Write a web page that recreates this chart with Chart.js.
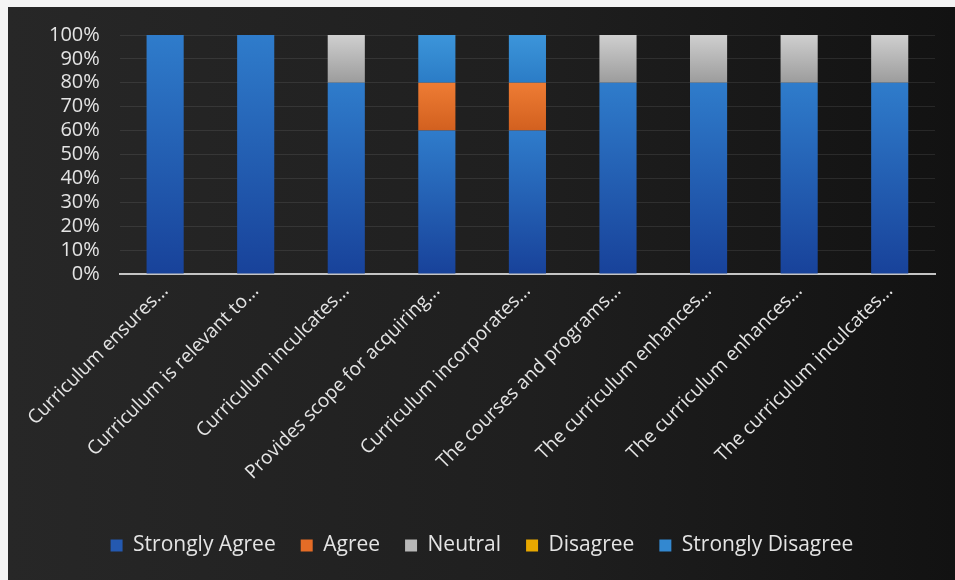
<!DOCTYPE html>
<html lang="en">
<head>
  <meta charset="UTF-8">
  <script src="https://cdn.jsdelivr.net/npm/chart.js"></script>
  <style>
    body, html {
      margin: 0;
      padding: 0;
      background: #f4f4f4;
      width: 955px;
      height: 580px;
      overflow: hidden;
    }
    .panel {
      position: absolute;
      left: 8px;
      top: 7px;
      width: 947px;
      height: 573px;
      overflow: hidden;
      background: linear-gradient(90deg, #272727 0%, #1f1f1f 55%, #121212 100%);
    }
    .chart-box {
      position: absolute;
      left: 0;
      top: -4px;
      width: 947px;
      height: 577px;
    }
  </style>
</head>
<body>
  <div class="panel">
    <div class="chart-box">
      <canvas id="stackedBar"></canvas>
    </div>
  </div>
  <script>
    // Survey statements (x axis)
    const statements = [
      "Curriculum ensures...",
      "Curriculum is relevant to...",
      "Curriculum inculcates...",
      "Provides scope for acquiring...",
      "Curriculum incorporates...",
      "The courses and programs...",
      "The curriculum enhances...",
      "The curriculum enhances...",
      "The curriculum inculcates..."
    ];

    // Share of responses per statement, in percent
    const stronglyAgree    = [100, 100, 80, 60, 60, 80, 80, 80, 80];
    const agree            = [0, 0, 0, 20, 20, 0, 0, 0, 0];
    const neutral          = [0, 0, 20, 0, 0, 20, 20, 20, 20];
    const disagree         = [0, 0, 0, 0, 0, 0, 0, 0, 0];
    const stronglyDisagree = [0, 0, 0, 20, 20, 0, 0, 0, 0];

    const seriesNames = ["Strongly Agree", "Agree", "Neutral", "Disagree", "Strongly Disagree"];
    const seriesData = [stronglyAgree, agree, neutral, disagree, stronglyDisagree];

    // [top, bottom] shades for each series, solid colour for the legend
    const shades = [
      ["#2f7ccb", "#18429a", "#2459b0"],
      ["#ee7c34", "#d2601f", "#e46c26"],
      ["#cfcfcf", "#9c9c9c", "#b8b8b8"],
      ["#f5bc12", "#d99d00", "#e8a800"],
      ["#3c95da", "#2b7cc6", "#3388d0"]
    ];

    const textColor = "#e4e4e4";
    const baseFont = "'Open Sans', sans-serif";

    // vertical gradient over each stacked segment
    function segmentFill(seriesIndex) {
      return function (ctx) {
        const chart = ctx.chart;
        const y = chart.scales && chart.scales.y;
        if (!chart.chartArea || !y || ctx.dataIndex === undefined) return shades[seriesIndex][2];
        let base = 0;
        for (let s = 0; s < seriesIndex; s++) base += seriesData[s][ctx.dataIndex];
        const top = base + seriesData[seriesIndex][ctx.dataIndex];
        const y0 = y.getPixelForValue(top);
        const y1 = y.getPixelForValue(base);
        if (!isFinite(y0) || !isFinite(y1) || y0 === y1) return shades[seriesIndex][2];
        const g = chart.ctx.createLinearGradient(0, y0, 0, y1);
        g.addColorStop(0, shades[seriesIndex][0]);
        g.addColorStop(1, shades[seriesIndex][1]);
        return g;
      };
    }

    const datasets = seriesNames.map((name, i) => ({
      label: name,
      data: seriesData[i],
      backgroundColor: segmentFill(i),
      borderWidth: 0,
      categoryPercentage: 1,
      barPercentage: 0.41
    }));

    const ctx = document.getElementById("stackedBar").getContext("2d");
    new Chart(ctx, {
      type: "bar",
      data: { labels: statements, datasets: datasets },
      options: {
        responsive: true,
        maintainAspectRatio: false,
        animation: false,
        layout: { padding: { left: 21, right: 20, top: 12, bottom: 14 } },
        plugins: {
          tooltip: { enabled: false },
          legend: {
            position: "bottom",
            title: { display: true, text: " ", padding: 4, font: { size: 10 } },
            labels: {
              color: textColor,
              font: { family: baseFont, size: 21 },
              boxWidth: 12,
              boxHeight: 12,
              padding: 25,
              generateLabels: function (chart) {
                return seriesNames.map((name, i) => ({
                  text: name,
                  fillStyle: shades[i][2],
                  strokeStyle: shades[i][2],
                  lineWidth: 0,
                  fontColor: textColor,
                  datasetIndex: i,
                  hidden: false
                }));
              }
            }
          }
        },
        scales: {
          x: {
            stacked: true,
            grid: { display: false, drawTicks: false },
            border: { display: true, color: "#c4c4c4", width: 2 },
            ticks: {
              color: textColor,
              font: { family: baseFont, size: 19 },
              minRotation: 45,
              maxRotation: 45,
              autoSkip: false,
              padding: 6
            }
          },
          y: {
            stacked: true,
            min: 0,
            max: 100,
            grid: { color: "rgba(255,255,255,0.09)", drawTicks: false },
            border: { display: false },
            ticks: {
              stepSize: 10,
              autoSkip: false,
              color: textColor,
              font: { family: baseFont, size: 20 },
              padding: 20,
              callback: v => v + "%"
            }
          }
        }
      }
    });
  </script>
</body>
</html>
